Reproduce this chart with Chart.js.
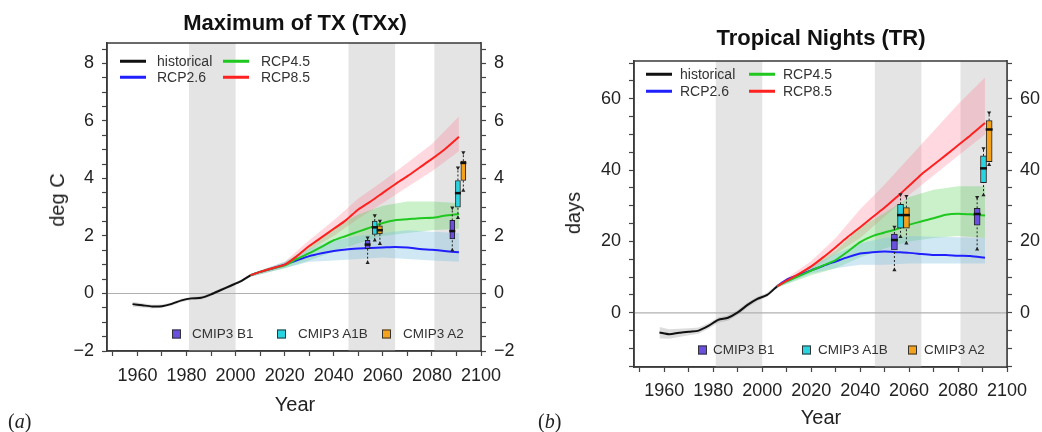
<!DOCTYPE html>
<html>
<head>
<meta charset="utf-8">
<script src="https://cdn.jsdelivr.net/npm/chart.js@4.4.0/dist/chart.umd.min.js"></script>
<style>
  body { margin: 0; width: 1042px; height: 432px; overflow: hidden; position: relative; background: #fff;
         font-family: "Liberation Sans", Arial, sans-serif; color: #222; }
  canvas { position: absolute; top: 0; }
  .t { position: absolute; white-space: nowrap; line-height: 1; }
  .c { transform: translate(-50%, -50%); }
  .title { font-weight: bold; font-size: 22px; color: #111; }
  .axt { font-size: 20px; color: #222; }
  .rot { transform: translate(-50%, -50%) rotate(-90deg); }
  .tag { font-family: "Liberation Serif", "DejaVu Serif", serif; font-size: 20px; transform: translateY(-50%); }
  .lg { font-size: 14px; color: #333; transform: translateY(-50%); }
  .ln { position: absolute; height: 2.5px; width: 26px; transform: translateY(-50%); }
  .bl { font-size: 13.5px; color: #333; transform: translateY(-50%); }
  .sq { position: absolute; width: 7px; height: 7px; border: 1px solid #333; transform: translateY(-50%); }
</style>
</head>
<body>
<canvas id="chartA" width="520" height="432" style="left:0"></canvas>
<canvas id="chartB" width="522" height="432" style="left:520px"></canvas>

<!-- panel (a) texts -->
<div class="t c title" style="left:295px;top:23px">Maximum of TX (TXx)</div>
<div class="t rot axt" style="left:57px;top:200px">deg C</div>
<div class="t c axt" style="left:295px;top:404px">Year</div>
<div class="t tag" style="left:8px;top:421px">(<i>a</i>)</div>

<div class="ln" style="left:120px;top:61px;background:#111"></div>
<div class="t lg" style="left:157px;top:61px">historical</div>
<div class="ln" style="left:120px;top:77px;background:#2020ff"></div>
<div class="t lg" style="left:157px;top:77px">RCP2.6</div>
<div class="ln" style="left:223px;top:61px;background:#1ec81e"></div>
<div class="t lg" style="left:261px;top:61px">RCP4.5</div>
<div class="ln" style="left:223px;top:77px;background:#ff2020"></div>
<div class="t lg" style="left:261px;top:77px">RCP8.5</div>

<div class="sq" style="left:172px;top:334px;background:#6a4fe0"></div>
<div class="t bl" style="left:192px;top:334px">CMIP3 B1</div>
<div class="sq" style="left:277px;top:334px;background:#28d4e0"></div>
<div class="t bl" style="left:298px;top:334px">CMIP3 A1B</div>
<div class="sq" style="left:382px;top:334px;background:#f4a21c"></div>
<div class="t bl" style="left:403px;top:334px">CMIP3 A2</div>

<!-- panel (b) texts -->
<div class="t c title" style="left:821px;top:38px">Tropical Nights (TR)</div>
<div class="t rot axt" style="left:573px;top:213px">days</div>
<div class="t c axt" style="left:821px;top:417px">Year</div>
<div class="t tag" style="left:538px;top:421px">(<i>b</i>)</div>

<div class="ln" style="left:646px;top:74px;background:#111"></div>
<div class="t lg" style="left:680px;top:74px">historical</div>
<div class="ln" style="left:646px;top:91px;background:#2020ff"></div>
<div class="t lg" style="left:680px;top:91px">RCP2.6</div>
<div class="ln" style="left:749px;top:74px;background:#1ec81e"></div>
<div class="t lg" style="left:783px;top:74px">RCP4.5</div>
<div class="ln" style="left:749px;top:91px;background:#ff2020"></div>
<div class="t lg" style="left:783px;top:91px">RCP8.5</div>

<div class="sq" style="left:698px;top:350px;background:#6a4fe0"></div>
<div class="t bl" style="left:713px;top:350px">CMIP3 B1</div>
<div class="sq" style="left:802px;top:350px;background:#28d4e0"></div>
<div class="t bl" style="left:818px;top:350px">CMIP3 A1B</div>
<div class="sq" style="left:908px;top:350px;background:#f4a21c"></div>
<div class="t bl" style="left:924px;top:350px">CMIP3 A2</div>

<script>
// shared axes / periods
const xTicks = [1950, 1960, 1970, 1980, 1990, 2000, 2010, 2020, 2030, 2040, 2050, 2060, 2070, 2080, 2090, 2100]
const xLabels = [1960, 1980, 2000, 2020, 2040, 2060, 2080, 2100]
const periods = [[1981, 2000], [2046, 2065], [2081, 2100]]

const histYears = [1958, 1962, 1966, 1970, 1974, 1978, 1982, 1986, 1990, 1994, 1998, 2002, 2006]
const projYears = [2006, 2010, 2015, 2020, 2025, 2030, 2035, 2040, 2045, 2050, 2055, 2060, 2065, 2070, 2075, 2080, 2085, 2091]
const bandYears = [2006, 2020, 2030, 2040, 2050, 2060, 2070, 2080, 2091]

const scenColors = { B1: '#6a4fe0', A1B: '#28d4e0', A2: '#f4a21c' }

// panel (a): TXx, deg C
const yTicksA = [-2, -1.5, -1, -0.5, 0, 0.5, 1, 1.5, 2, 2.5, 3, 3.5, 4, 4.5, 5, 5.5, 6, 6.5, 7, 7.5, 8, 8.5]
const yLabelsA = [-2, 0, 2, 4, 6, 8]
const histA = [-0.37, -0.41, -0.45, -0.44, -0.36, -0.24, -0.17, -0.15, -0.03, 0.12, 0.27, 0.42, 0.63]
const histLoA = [-0.46, -0.49, -0.52, -0.5, -0.42, -0.3, -0.23, -0.21, -0.09, 0.07, 0.22, 0.37, 0.58]
const histHiA = [-0.29, -0.34, -0.39, -0.38, -0.31, -0.18, -0.12, -0.1, 0.02, 0.17, 0.32, 0.47, 0.68]
const rcp26A = [0.63, 0.75, 0.87, 1.0, 1.15, 1.3, 1.4, 1.48, 1.53, 1.56, 1.58, 1.6, 1.62, 1.6, 1.55, 1.52, 1.48, 1.43]
const rcp45A = [0.63, 0.75, 0.87, 0.98, 1.2, 1.4, 1.62, 1.85, 2.0, 2.15, 2.3, 2.45, 2.55, 2.58, 2.62, 2.63, 2.7, 2.76]
const rcp85A = [0.63, 0.75, 0.88, 1.0, 1.3, 1.65, 1.95, 2.25, 2.55, 2.92, 3.2, 3.5, 3.8, 4.08, 4.38, 4.68, 5.0, 5.45]
const rcp26LoA = [0.58, 0.88, 1.1, 1.15, 1.2, 1.25, 1.2, 1.15, 1.1]
const rcp26HiA = [0.68, 1.1, 1.55, 1.85, 2.0, 2.1, 2.2, 2.15, 2.1]
const rcp45LoA = [0.58, 0.88, 1.15, 1.45, 1.75, 2.0, 2.1, 2.2, 2.25]
const rcp45HiA = [0.68, 1.08, 1.65, 2.3, 2.75, 3.05, 3.2, 3.2, 3.15]
const rcp85LoA = [0.58, 0.9, 1.5, 2.0, 2.6, 3.15, 3.7, 4.25, 4.95]
const rcp85HiA = [0.68, 1.1, 1.85, 2.55, 3.3, 3.9, 4.55, 5.2, 6.15]
const boxYearsA = [2053.8, 2056.7, 2058.8, 2088.3, 2090.6, 2092.8]
const boxScenA = ['B1', 'A1B', 'A2', 'B1', 'A1B', 'A2']
const boxLoA = [1.07, 1.85, 1.73, 1.5, 2.63, 3.58]
const boxQ1A = [1.56, 2.05, 2.07, 1.9, 3.0, 3.93]
const boxMedA = [1.7, 2.3, 2.2, 2.17, 3.49, 4.54]
const boxQ3A = [1.85, 2.52, 2.35, 2.54, 3.93, 4.6]
const boxHiA = [1.94, 2.71, 2.52, 2.98, 4.37, 4.9]

// panel (b): TR, days
const yTicksB = [-15, -10, -5, 0, 5, 10, 15, 20, 25, 30, 35, 40, 45, 50, 55, 60, 65, 70]
const yLabelsB = [0, 20, 40, 60]
const histB = [-5.5, -6.0, -5.6, -5.3, -5.0, -3.7, -2.0, -1.4, 0.1, 2.2, 3.9, 5.0, 7.4]
const histLoB = [-7.2, -7.3, -6.8, -6.3, -5.9, -4.5, -2.8, -2.2, -0.6, 1.5, 3.3, 4.4, 6.9]
const histHiB = [-4.0, -4.6, -4.5, -4.3, -4.1, -2.9, -1.3, -0.7, 0.8, 2.9, 4.5, 5.6, 7.9]
const rcp26B = [7.4, 9.3, 10.6, 11.9, 13.2, 14.4, 15.6, 16.6, 17.0, 17.2, 17.0, 16.8, 16.5, 16.2, 16.2, 16.0, 15.9, 15.4]
const rcp45B = [7.4, 8.8, 10.3, 11.8, 13.3, 14.8, 17.2, 19.8, 21.5, 22.5, 23.5, 24.7, 25.6, 26.5, 27.5, 27.8, 27.6, 27.3]
const rcp85B = [7.4, 9.0, 10.9, 13.0, 15.6, 18.4, 21.3, 24.0, 26.8, 29.5, 32.5, 35.6, 38.8, 41.5, 44.2, 47.0, 49.7, 53.2]
const rcp26LoB = [7.0, 11.0, 12.5, 13.5, 13.5, 13.8, 13.8, 13.8, 13.8]
const rcp26HiB = [7.8, 13.0, 16.5, 19.5, 21.0, 21.5, 21.3, 21.2, 21.0]
const rcp45LoB = [7.0, 10.5, 12.5, 15.5, 18.0, 20.0, 21.0, 21.5, 21.0]
const rcp45HiB = [7.8, 13.0, 17.5, 24.0, 28.0, 32.5, 34.5, 35.5, 35.5]
const rcp85LoB = [7.0, 12.0, 16.5, 21.0, 27.0, 33.0, 38.5, 44.0, 50.0]
const rcp85HiB = [7.8, 14.5, 21.0, 29.0, 36.0, 43.5, 51.0, 58.5, 66.0]
const boxYearsB = [2054.0, 2056.5, 2058.9, 2087.8, 2090.4, 2092.7]
const boxScenB = ['B1', 'A1B', 'A2', 'B1', 'A1B', 'A2']
const boxLoB = [12, 21.3, 19.5, 17.8, 33, 41.5]
const boxQ1B = [17.6, 23.7, 23.7, 24.6, 36.5, 42.4]
const boxMedB = [20.4, 27.4, 27.4, 27.7, 40.5, 51.4]
const boxQ3B = [22.1, 30.4, 29.5, 29.3, 44, 53.9]
const boxHiB = [24.1, 33.2, 32.7, 32.4, 46.1, 56.1]

const pts = (xs, ys) => xs.map((x, i) => ({ x, y: ys[i] }))
const fmt = v => v < 0 ? '\u2212' + Math.abs(v) : String(v)

const framePlugin = {
    id: 'frame',
    beforeDatasetsDraw(chart) {
        const { ctx, chartArea: a, scales: { x, y } } = chart
        ctx.save()
        ctx.fillStyle = '#e4e4e4'
        periods.forEach(([s, e]) => {
            const l = x.getPixelForValue(s), r = x.getPixelForValue(e)
            ctx.fillRect(l, a.top, r - l, a.bottom - a.top)
        })
        const y0 = y.getPixelForValue(0)
        ctx.strokeStyle = '#b0b0b0'
        ctx.lineWidth = 1.2
        ctx.beginPath(); ctx.moveTo(a.left, y0); ctx.lineTo(a.right, y0); ctx.stroke()
        ctx.restore()
    },
    afterDatasetsDraw(chart) {
        const { ctx, chartArea: a } = chart
        ctx.save()
        ctx.strokeStyle = '#3a3a3a'
        ctx.lineWidth = 1.5
        ctx.strokeRect(a.left, a.top, a.right - a.left, a.bottom - a.top)
        ctx.restore()
    }
}

function buildChart(id, p) {
    const ds = []
    const band = (xs, lo, hi, color, order) => {
        ds.push({ data: pts(xs, lo), borderWidth: 0, pointRadius: 0, fill: false, order })
        ds.push({ data: pts(xs, hi), borderWidth: 0, pointRadius: 0, fill: ds.length - 1, backgroundColor: color, order })
    }
    band(bandYears, p.r85Lo, p.r85Hi, 'rgba(255,120,140,0.28)', 54)
    band(bandYears, p.r45Lo, p.r45Hi, 'rgba(70,205,70,0.28)', 53)
    band(bandYears, p.r26Lo, p.r26Hi, 'rgba(130,195,225,0.38)', 52)
    band(histYears, p.histLo, p.histHi, 'rgba(140,140,140,0.3)', 51)

    const line = (xs, ys, color, order) => ds.push({
        data: pts(xs, ys), borderColor: color, borderWidth: 2, pointRadius: 0, fill: false, tension: 0.25, order
    })
    line(projYears, p.r26, '#2020ff', 13)
    line(projYears, p.r45, '#1ec81e', 12)
    line(projYears, p.r85, '#ff2020', 11)
    line(histYears, p.hist, '#111111', 10)

    // dotted whiskers
    const wh = []
    p.boxYears.forEach((x, i) => {
        wh.push({ x, y: p.lo[i] }, { x, y: p.q1[i] }, { x, y: null }, { x, y: p.q3[i] }, { x, y: p.hi[i] }, { x, y: null })
    })
    ds.push({ data: wh, borderColor: '#222', borderWidth: 1, borderDash: [2, 2], pointRadius: 0, fill: false, spanGaps: false, order: 4 })

    // boxes as floating bars
    ds.push({
        type: 'bar',
        data: p.boxYears.map((x, i) => ({ x, y: [p.q1[i], p.q3[i]] })),
        backgroundColor: p.scen.map(s => scenColors[s]),
        borderColor: '#222', borderWidth: 1, borderSkipped: false,
        barThickness: p.boxW, grouped: false, order: 3
    })

    // medians
    ds.push({
        data: pts(p.boxYears, p.med), showLine: false, pointStyle: 'line',
        pointRadius: p.boxW / 2 + 0.5, pointBorderWidth: 2.5, pointBorderColor: '#111', borderColor: '#111', order: 2
    })

    // whisker end markers
    ds.push({
        data: [...pts(p.boxYears, p.hi), ...pts(p.boxYears, p.lo)], showLine: false, pointStyle: 'triangle',
        pointRadius: 2.4, pointRotation: [...p.hi.map(() => 180), ...p.lo.map(() => 0)],
        pointBackgroundColor: '#222', pointBorderColor: '#222', pointBorderWidth: 0, order: 1
    })

    ds.forEach(d => { d.xAxisID = 'x'; d.yAxisID = 'y' })

    const yAxis = (pos, fitW, pad) => ({
        type: 'linear', position: pos, min: p.yMin, max: p.yMax,
        afterBuildTicks: s => { s.ticks = p.yTicks.map(v => ({ value: v })) },
        afterFit: s => { s.width = fitW },
        ticks: {
            autoSkip: false, padding: pad, color: '#222', font: { size: 18, family: 'Liberation Sans' },
            callback: v => p.yLabels.includes(v) ? fmt(v) : ''
        },
        grid: { drawOnChartArea: false, tickLength: 5, color: '#444', tickWidth: 1.2 },
        border: { display: true, color: '#3a3a3a', width: 1.5 }
    })

    return new Chart(document.getElementById(id), {
        type: 'line',
        data: { datasets: ds },
        plugins: [framePlugin],
        options: {
            responsive: false,
            animation: false,
            events: [],
            layout: { padding: { top: p.top, left: 0, right: 0, bottom: 0 } },
            plugins: { legend: { display: false }, tooltip: { enabled: false } },
            scales: {
                x: {
                    type: 'linear', min: 1947.6, max: 2100, offset: false,
                    afterBuildTicks: s => { s.ticks = xTicks.map(v => ({ value: v })) },
                    afterFit: s => { s.height = p.bottomH },
                    ticks: {
                        autoSkip: false, maxRotation: 0, minRotation: 0, padding: p.xPad, color: '#222',
                        font: { size: 18, family: 'Liberation Sans' },
                        callback: v => xLabels.includes(v) ? String(v) : ''
                    },
                    grid: { offset: false, drawOnChartArea: false, tickLength: 5, color: '#444', tickWidth: 1.2 },
                    border: { display: true, color: '#3a3a3a', width: 1.5 }
                },
                y: yAxis('left', p.left, 8),
                y2: yAxis('right', p.rightW, 8)
            }
        }
    })
}

buildChart('chartA', {
    top: 43, left: 107, rightW: 39, bottomH: 81, xPad: 9, boxW: 5,
    yMin: -2, yMax: 8.71, yTicks: yTicksA, yLabels: yLabelsA,
    hist: histA, histLo: histLoA, histHi: histHiA,
    r26: rcp26A, r45: rcp45A, r85: rcp85A,
    r26Lo: rcp26LoA, r26Hi: rcp26HiA, r45Lo: rcp45LoA, r45Hi: rcp45HiA, r85Lo: rcp85LoA, r85Hi: rcp85HiA,
    boxYears: boxYearsA, scen: boxScenA, lo: boxLoA, q1: boxQ1A, med: boxMedA, q3: boxQ3A, hi: boxHiA
})

buildChart('chartB', {
    top: 61, left: 114, rightW: 35, bottomH: 65, xPad: 8, boxW: 6,
    yMin: -15.2, yMax: 70.6, yTicks: yTicksB, yLabels: yLabelsB,
    hist: histB, histLo: histLoB, histHi: histHiB,
    r26: rcp26B, r45: rcp45B, r85: rcp85B,
    r26Lo: rcp26LoB, r26Hi: rcp26HiB, r45Lo: rcp45LoB, r45Hi: rcp45HiB, r85Lo: rcp85LoB, r85Hi: rcp85HiB,
    boxYears: boxYearsB, scen: boxScenB, lo: boxLoB, q1: boxQ1B, med: boxMedB, q3: boxQ3B, hi: boxHiB
})
</script>
</body>
</html>
